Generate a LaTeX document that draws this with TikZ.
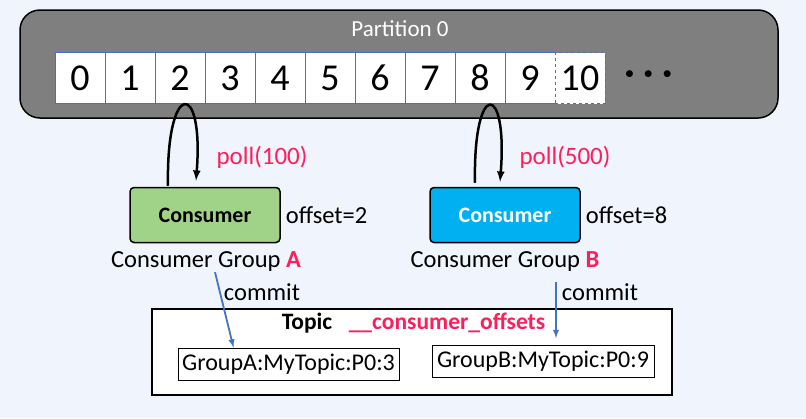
\documentclass[tikz,border=0pt]{standalone}
\usepackage{fontspec}
\setmainfont{Carlito}
\usetikzlibrary{positioning}
\definecolor{bgblue}{RGB}{240,244,253}
\definecolor{partgray}{RGB}{127,127,127}
\definecolor{cellblue}{RGB}{68,114,196}
\definecolor{consgreen}{RGB}{160,211,135}
\definecolor{conscyan}{RGB}{0,176,240}
\definecolor{pollred}{RGB}{255,30,90}
\newcommand{\fsz}[1]{\fontsize{#1}{#1}\selectfont}
\begin{document}
\begin{tikzpicture}[x=1pt,y=-1pt,>=latex,
  cell/.style={draw=cellblue,line width=0.8pt,fill=white,minimum width=50pt,minimum height=51pt,inner sep=0pt,outer sep=0pt,font=\fsz{38}},
  consumer/.style={draw,line width=1.5pt,rounded corners=4pt,minimum width=150pt,minimum height=55pt,font=\fsz{22}\bfseries},
  lbl/.style={font=\fsz{24.5},inner sep=0pt},
  loop/.style={->,line width=2.5pt},
  commitarrow/.style={->,cellblue,line width=1.8pt},
  rec/.style={draw,line width=1pt,font=\fsz{24},inner sep=2pt,minimum height=32pt}]
\fill[bgblue] (0,0) rectangle (806,418);
\draw[fill=partgray,line width=1.5pt,rounded corners=20pt] (20,10) rectangle (778,118);
\node[white,font=\fsz{23}] (ptitle) at (400,29) {Partition 0};

% offsets
\node[cell] (c0) at (80,78) {0};
\node[cell,right=0pt of c0] (c1) {1};
\node[cell,right=0pt of c1] (c2) {2};
\node[cell,right=0pt of c2] (c3) {3};
\node[cell,right=0pt of c3] (c4) {4};
\node[cell,right=0pt of c4] (c5) {5};
\node[cell,right=0pt of c5] (c6) {6};
\node[cell,right=0pt of c6] (c7) {7};
\node[cell,right=0pt of c7] (c8) {8};
\node[cell,right=0pt of c8] (c9) {9};
\node[cell,dashed,right=0pt of c9] (c10) {10};
\node[font=\fsz{37}\bfseries,right=16pt of c10] (dots) {·\hspace{9pt}·\hspace{9pt}·};

% consumers
\node[consumer,fill=consgreen] (ca) at (205,215) {Consumer};
\node[lbl,right=5pt of ca] (oa) {offset=2};
\node[lbl] (ga) at (206,262) {Consumer Group \textcolor{pollred}{\textbf{A}}};
\node[consumer,fill=conscyan,text=white] (cb) at (505,215) {Consumer};
\node[lbl,right=5pt of cb] (ob) {offset=8};
\node[lbl] (gb) at (505,262) {Consumer Group \textcolor{pollred}{\textbf{B}}};

\node[lbl,pollred,font=\fsz{25}] (pla) at (262,157) {poll(100)};
\node[lbl,pollred,font=\fsz{25}] (plb) at (565,157) {poll(500)};

\coordinate (a1) at ([xshift=-37pt,yshift=1pt]ca.north);
\coordinate (a2) at ([xshift=-9pt,yshift=6pt]ca.north);
\draw[loop] (a1) .. controls +(-2,-106) and +(8,-102) .. (a2);
\coordinate (b1) at ([xshift=-30pt,yshift=4pt]cb.north);
\coordinate (b2) at ([xshift=-5pt,yshift=5pt]cb.north);
\draw[loop] (b1) .. controls +(-2,-104) and +(8,-100) .. (b2);

% offsets topic
\node[draw,fill=white,line width=1.5pt,minimum width=520pt,minimum height=86pt] (topic) at (412,352) {};
\node[font=\fsz{23.5}\bfseries] (ttl) at (307,323) {Topic};
\node[font=\fsz{23.5}\bfseries,text=pollred] (tname) at (447,323) {\_\_consumer\_offsets};
\node[rec,minimum width=221pt] (ka) at (288.5,364) {GroupA:MyTopic:P0:3};
\node[rec,minimum width=222pt] (kb) at (543,361.5) {GroupB:MyTopic:P0:9};

\node[lbl] (ma) at (262,292) {commit};
\node[lbl] (mb) at (600,292) {commit};
\draw[commitarrow] ([xshift=9pt]ga.south) -- ([xshift=-55pt]ka.north);
\draw[commitarrow] ([xshift=51pt,yshift=-10pt]gb.south) -- ([xshift=13pt,yshift=7pt]kb.north);
\end{tikzpicture}
\end{document}
